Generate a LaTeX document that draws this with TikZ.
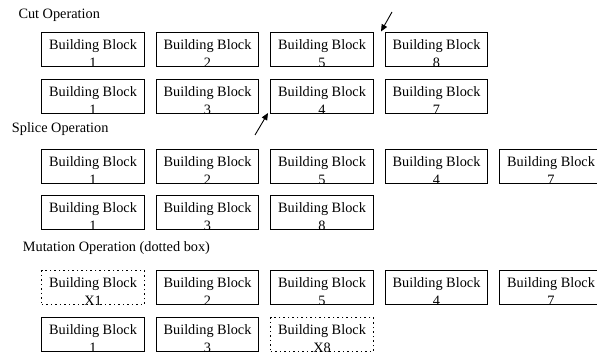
\documentclass[tikz,border=0pt]{standalone}
\usepackage{fontspec}
\setmainfont{Liberation Serif}
\usetikzlibrary{arrows.meta}
\tikzset{
  bbox/.style={draw, line width=1pt, minimum width=102.5pt, minimum height=34pt, inner sep=0pt,
    path picture={
      \node[anchor=base, inner sep=0pt] at ([yshift=-17pt]path picture bounding box.north) {Building Block};
      \node[anchor=base, inner sep=0pt] at ([yshift=-35pt]path picture bounding box.north) {#1};
    }},
  dbox/.style={bbox=#1, line width=1pt, dash pattern=on 1.5pt off 3pt},
  oplabel/.style={anchor=base west, inner sep=0pt},
  pointer/.style={line width=0.9pt, -{Triangle[length=7pt,width=6pt]}}
}
\begin{document}
\begin{tikzpicture}[x=1pt,y=-1pt,font=\fontsize{14.3}{17}\selectfont]
\useasboundingbox (0,0) rectangle (597,352);
\clip (0,0) rectangle (597,352);
% labels
\node[oplabel] (cut) at (18.3,19) {Cut Operation};
\node[oplabel] (splice) at (11.7,132.5) {Splice Operation};
\node[oplabel] (mut) at (22.7,252) {Mutation Operation (dotted box)};
% cut
\node[bbox=1] (c11) at (93,50) {};
\node[bbox=2] (c12) at (207.5,50) {};
\node[bbox=5] (c13) at (322,50) {};
\node[bbox=8] (c14) at (436.5,50) {};
\node[bbox=1] (c21) at (93,96.5) {};
\node[bbox=3] (c22) at (207.5,96.5) {};
\node[bbox=4] (c23) at (322,96.5) {};
\node[bbox=7] (c24) at (436.5,96.5) {};
% splice
\node[bbox=1] (s11) at (93,166.5) {};
\node[bbox=2] (s12) at (207.5,166.5) {};
\node[bbox=5] (s13) at (322,166.5) {};
\node[bbox=4] (s14) at (436.5,166.5) {};
\node[bbox=7] (s15) at (551,166.5) {};
\node[bbox=1] (s21) at (93,213) {};
\node[bbox=3] (s22) at (207.5,213) {};
\node[bbox=8] (s23) at (322,213) {};
% mutation
\node[dbox=X1] (m11) at (93,288) {};
\node[bbox=2] (m12) at (207.5,288) {};
\node[bbox=5] (m13) at (322,288) {};
\node[bbox=4] (m14) at (436.5,288) {};
\node[bbox=7] (m15) at (551,288) {};
\node[bbox=1] (m21) at (93,335) {};
\node[bbox=3] (m22) at (207.5,335) {};
\node[dbox=X8] (m23) at (322,335) {};
% arrows
\coordinate (a1t) at (392,12);
\coordinate (a1h) at (381,31.5);
\coordinate (a2t) at (255,135);
\coordinate (a2h) at (268,113);
\draw[pointer] (a1t) -- (a1h);
\draw[pointer] (a2t) -- (a2h);
\end{tikzpicture}
\end{document}
